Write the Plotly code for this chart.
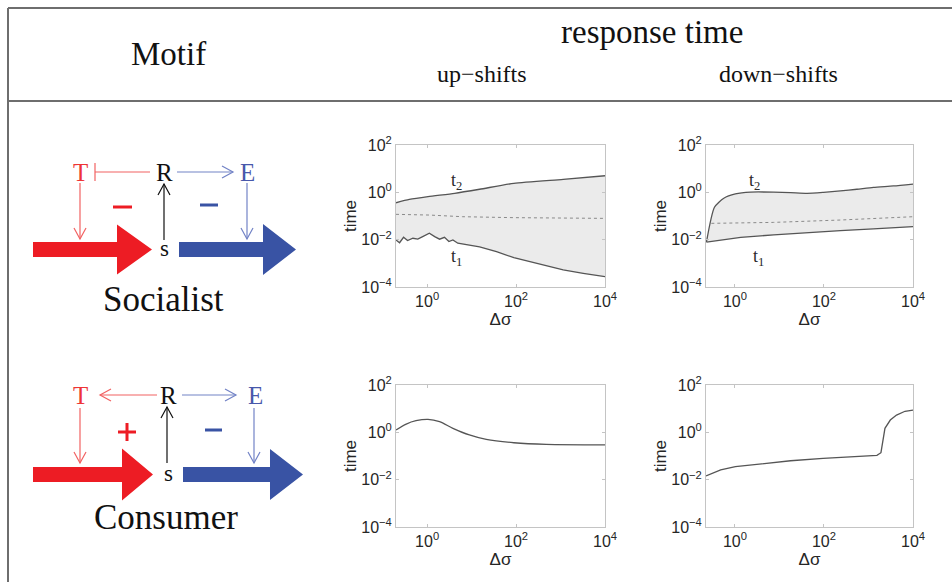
import math
import numpy as np
import plotly.graph_objects as go

W, H = 952, 582

# ---------------- data (log10 values) ----------------
# Socialist, up-shifts
su_t2_lx = [-0.70, -0.40, 0.02, 0.62, 1.18, 1.95, 3.06, 4.0]
su_t2_ly = [-0.44, -0.30, -0.18, -0.04, 0.13, 0.38, 0.55, 0.70]
su_t1_lx = [-0.70, -0.62, -0.53, -0.44, -0.32, -0.21, -0.10, 0.05, 0.17, 0.28, 0.39,
            0.49, 0.58, 0.69, 1.18, 1.56, 1.95, 2.46, 3.06, 3.51, 4.0]
su_t1_ly = [-2.01, -2.13, -1.90, -2.04, -1.94, -1.98, -1.87, -1.73, -1.87, -1.98, -1.90,
            -2.08, -2.01, -2.15, -2.30, -2.51, -2.76, -3.00, -3.28, -3.42, -3.56]
su_mid_lx = [-0.70, 0.05, 0.80, 1.95, 4.0]
su_mid_ly = [-0.93, -0.96, -1.03, -1.07, -1.10]

# Socialist, down-shifts
sd_t2_lx = [-0.64, -0.46, -0.25, 0.01, 0.35, 0.87, 1.25, 1.62, 1.99, 2.37, 2.74, 3.11, 3.56, 4.0]
sd_t2_ly = [-2.10, -0.63, -0.25, -0.07, 0.01, 0.01, -0.01, -0.04, 0.00, 0.06, 0.13, 0.21, 0.27, 0.35]
sd_t1_lx = [-0.64, 0.13, 0.87, 1.62, 2.37, 3.11, 4.0]
sd_t1_ly = [-2.10, -1.90, -1.80, -1.70, -1.62, -1.54, -1.45]
sd_mid_lx = [-0.53, 0.87, 2.37, 4.0]
sd_mid_ly = [-1.31, -1.27, -1.17, -1.03]

# Consumer, up-shifts
cu_lx = [-0.70, -0.47, -0.25, 0.02, 0.28, 0.58, 0.95, 1.33, 1.95, 2.68, 4.0]
cu_ly = [0.10, 0.35, 0.49, 0.55, 0.45, 0.17, -0.11, -0.30, -0.44, -0.51, -0.53]

# Consumer, down-shifts
cd_lx = [-0.65, -0.51, -0.32, 0.01, 0.50, 1.25, 1.98, 2.74, 3.19, 3.28, 3.32, 3.37, 3.49, 3.63, 3.82, 4.0]
cd_ly = [-1.84, -1.73, -1.59, -1.45, -1.34, -1.20, -1.10, -1.03, -0.97, -0.86, -0.40, 0.17, 0.52, 0.73, 0.89, 0.94]

x_tickvals = [1, 100, 10000]
x_ticktext = ["10<sup>0</sup>", "10<sup>2</sup>", "10<sup>4</sup>"]
y_tickvals = [1e-4, 1e-2, 1, 100]
y_ticktext = ["10<sup>\u22124</sup>", "10<sup>\u22122</sup>", "10<sup>0</sup>", "10<sup>2</sup>"]

header_main = "response time"
header_cols = ["up\u2212shifts", "down\u2212shifts"]
motif_title = "Motif"
motif_names = ["Socialist", "Consumer"]


def ten(v):
    return np.power(10.0, np.array(v))


LINE = "#555555"
FILL = "#ebebeb"
AX = "#c4c4c4"

fig = go.Figure()

# panels: (xaxis id, yaxis id, x px domain, y px domain, x log range)
panels = {
    "su": ("x", "y", (396, 605), (145, 287), [-0.70, 4.0]),
    "sd": ("x2", "y2", (706, 913), (145, 287), [-0.65, 4.0]),
    "cu": ("x3", "y3", (396, 605), (385, 527), [-0.70, 4.0]),
    "cd": ("x4", "y4", (706, 913), (385, 527), [-0.65, 4.0]),
}


def add_band(key, t1x, t1y, t2x, t2y, mx, my):
    xa, ya = panels[key][0], panels[key][1]
    fig.add_trace(go.Scatter(x=ten(t1x), y=ten(t1y), mode="lines", xaxis=xa, yaxis=ya,
                             line=dict(color=LINE, width=1.3), showlegend=False, hoverinfo="skip"))
    fig.add_trace(go.Scatter(x=ten(t2x), y=ten(t2y), mode="lines", xaxis=xa, yaxis=ya,
                             line=dict(color=LINE, width=1.3, shape="spline", smoothing=0.6),
                             fill="tonexty", fillcolor=FILL, showlegend=False, hoverinfo="skip"))
    fig.add_trace(go.Scatter(x=ten(mx), y=ten(my), mode="lines", xaxis=xa, yaxis=ya,
                             line=dict(color="#8a8a8a", width=1, dash="dot"),
                             showlegend=False, hoverinfo="skip"))


add_band("su", su_t1_lx, su_t1_ly, su_t2_lx, su_t2_ly, su_mid_lx, su_mid_ly)
add_band("sd", sd_t1_lx, sd_t1_ly, sd_t2_lx, sd_t2_ly, sd_mid_lx, sd_mid_ly)
fig.add_trace(go.Scatter(x=ten(cu_lx), y=ten(cu_ly), mode="lines", xaxis="x3", yaxis="y3",
                         line=dict(color=LINE, width=1.3, shape="spline", smoothing=0.8),
                         showlegend=False, hoverinfo="skip"))
fig.add_trace(go.Scatter(x=ten(cd_lx), y=ten(cd_ly), mode="lines", xaxis="x4", yaxis="y4",
                         line=dict(color=LINE, width=1.3), showlegend=False, hoverinfo="skip"))

SANS = "Liberation Sans, Arial"
tickfont = dict(family=SANS, size=16, color="#262626")
layout = {}
for key, (xa, ya, xd, yd, xr) in panels.items():
    xname = "xaxis" + xa[1:]
    yname = "yaxis" + ya[1:]
    layout[xname] = dict(
        domain=[xd[0] / W, xd[1] / W], anchor=ya, type="log", range=xr, automargin=False,
        showline=True, linecolor=AX, linewidth=1, mirror="ticks", ticks="inside",
        ticklen=3, tickcolor=AX, showgrid=False, zeroline=False,
        tickvals=x_tickvals, ticktext=x_ticktext, tickfont=tickfont,
        title=dict(text="\u0394\u03c3", font=dict(family=SANS, size=17, color="#262626"),
                   standoff=0),
        fixedrange=True)
    layout[yname] = dict(
        domain=[1 - yd[1] / H, 1 - yd[0] / H], anchor=xa, type="log", range=[-4, 2], automargin=False,
        showline=True, linecolor=AX, linewidth=1, mirror="ticks", ticks="inside",
        ticklen=3, tickcolor=AX, showgrid=False, zeroline=False,
        tickvals=y_tickvals, ticktext=y_ticktext, tickfont=tickfont,
        title=dict(text="time", font=dict(family=SANS, size=17, color="#262626"),
                   standoff=0),
        fixedrange=True)


# ---------------- helpers for the motif drawings (pixel -> paper) ----------------
def P(x, y):
    return x / W, 1 - y / H


shapes = []


def seg(x0, y0, x1, y1, color, width=1.2):
    a, b = P(x0, y0)
    c, d = P(x1, y1)
    shapes.append(dict(type="line", xref="paper", yref="paper", x0=a, y0=b, x1=c, y1=d,
                       line=dict(color=color, width=width)))


def path(pts, color, fill=None, width=1.2, close=False):
    s = ""
    for i, (x, y) in enumerate(pts):
        a, b = P(x, y)
        s += ("M" if i == 0 else "L") + f"{a:.5f},{b:.5f} "
    if close:
        s += "Z"
    shapes.append(dict(type="path", xref="paper", yref="paper", path=s,
                       line=dict(color=color, width=width if fill is None else 0),
                       fillcolor=fill if fill else "rgba(0,0,0,0)"))


def thin_arrow(x0, y0, x1, y1, color, head="open"):
    seg(x0, y0, x1, y1, color)
    dx, dy = x1 - x0, y1 - y0
    L = math.hypot(dx, dy)
    ux, uy = dx / L, dy / L
    if head == "open":
        bx, by = x1 - ux * 11, y1 - uy * 11
        nx, ny = -uy * 6, ux * 6
        path([(bx + nx, by + ny), (x1, y1), (bx - nx, by - ny)], color)
    elif head == "bar":
        nx, ny = -uy * 9, ux * 9
        seg(x1 + nx, y1 + ny, x1 - nx, y1 - ny, color)


def fat_arrow(x0, xs, xt, yc, half_shaft, half_head, color):
    path([(x0, yc - half_shaft), (xs, yc - half_shaft), (xs, yc - half_head), (xt, yc),
          (xs, yc + half_head), (xs, yc + half_shaft), (x0, yc + half_shaft)],
         color, fill=color, close=True)


RED_T, RED_L, RED_F = "#ee3535", "#f26262", "#ed1c24"
BLU_T, BLU_L, BLU_F = "#4858ab", "#7283c6", "#3953a4"

# frame of the table
seg(8, 8, 952, 8, "#6e6e6e", 2)
seg(8, 101, 952, 101, "#6e6e6e", 2)
seg(8, 8, 8, 582, "#6e6e6e", 2)

# Socialist motif
thin_arrow(150, 172, 95, 172, RED_L, head="bar")
thin_arrow(177, 172, 233, 172, BLU_L)
thin_arrow(80, 183, 80, 239, RED_L)
thin_arrow(164, 240, 164, 184, "#111111")
thin_arrow(247, 183, 247, 239, BLU_L)
seg(113, 207, 132, 207, RED_F, 3)
seg(200, 205, 218, 205, BLU_F, 3)
fat_arrow(33, 117, 152, 249.5, 7.5, 25, RED_F)
fat_arrow(179, 263, 296, 249.5, 7.5, 25.5, BLU_F)

# Consumer motif
thin_arrow(157, 395, 100, 395, RED_L)
thin_arrow(182, 395, 236, 395, BLU_L)
thin_arrow(80, 408, 80, 463, RED_L)
thin_arrow(167, 463, 167, 407, "#111111")
thin_arrow(254, 408, 254, 463, BLU_L)
seg(118, 432, 136, 432, RED_F, 3)
seg(127, 423, 127, 441, RED_F, 3)
seg(205, 430, 222, 430, BLU_F, 3)
fat_arrow(33, 122, 153, 474.5, 7.5, 26, RED_F)
fat_arrow(183, 270, 303, 474.5, 7.5, 25.5, BLU_F)

SERIF = "Liberation Serif, Times New Roman, serif"
annotations = []


def text(x, y, s, size, color="#111111", family=SERIF):
    a, b = P(x, y)
    annotations.append(dict(x=a, y=b, xref="paper", yref="paper", text=s, showarrow=False,
                            xanchor="center", yanchor="middle",
                            font=dict(family=family, size=size, color=color)))


text(168, 54, motif_title, 33)
text(652, 32, header_main, 33)
text(482, 74, header_cols[0], 24)
text(778, 74, header_cols[1], 24)

text(80, 172, "T", 25, RED_T)
text(164, 172, "R", 25)
text(247, 172, "E", 25, BLU_T)
text(164, 248, "s", 23)
text(163, 299, motif_names[0], 35)

text(80, 395, "T", 25, RED_T)
text(168, 395, "R", 25)
text(255, 395, "E", 25, BLU_T)
text(168, 473, "s", 23)
text(166, 517, motif_names[1], 35)

# curve labels
text(456, 181, "t<sub>2</sub>", 18, "#2a2a2a")
text(456, 257, "t<sub>1</sub>", 18, "#2a2a2a")
text(754, 181, "t<sub>2</sub>", 18, "#2a2a2a")
text(758, 257, "t<sub>1</sub>", 18, "#2a2a2a")

fig.update_layout(
    width=W, height=H, margin=dict(l=0, r=0, t=0, b=0),
    paper_bgcolor="white", plot_bgcolor="white",
    shapes=shapes, annotations=annotations, showlegend=False,
    **layout,
)

fig.write_html("out.html")
